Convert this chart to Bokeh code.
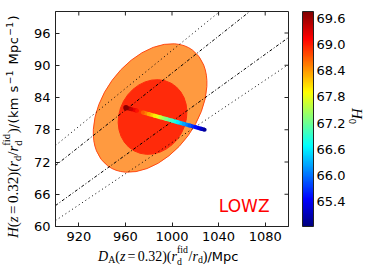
import math
from bokeh.plotting import figure
from bokeh.models import (ColorBar, LinearColorMapper, FixedTicker, PrintfTickFormatter,
                          Label, ColumnDataSource, Range1d, Div)
from bokeh.layouts import row, column
from bokeh.transform import linear_cmap
from bokeh.embed import file_html
from bokeh.resources import INLINE

# ---------------- data ----------------
da_limits = [900, 1100]
h_limits = [60, 100]
x_ticks = [920, 960, 1000, 1040, 1080]
y_ticks = [60, 66, 72, 78, 84, 90, 96]
cbar_ticks = [65.4, 66.0, 66.6, 67.2, 67.8, 68.4, 69.0, 69.6]
h0_low = 64.83
h0_high = 69.76

# confidence contours (ellipses): centre DA, centre H, major size (DA units), minor size (H units), tilt (deg)
outer_da, outer_h, outer_w, outer_hh, outer_ang = 981.2, 82.05, 123.2, 17.5, 53.9
inner_da, inner_h, inner_w, inner_hh, inner_ang = 983.3, 80.37, 66.2, 12.3, 61.3

# constant-D_V reference lines
dot1_da = [900, 1041]
dot1_h = [75.07, 100]
dd1_da = [900, 1066.7]
dd1_h = [71.35, 100]
dd2_da = [900, 1100]
dd2_h = [63.9, 95.16]
dot2_da = [900, 1100]
dot2_h = [61.1, 90.14]

# H0-coloured track
track_da = [960.5, 965, 970, 975, 980, 985, 990, 995, 1000, 1005, 1010, 1015, 1020, 1025, 1028]
track_h = [82.10, 81.83, 81.53, 81.22, 80.92, 80.62, 80.31, 80.01, 79.71, 79.40, 79.10, 78.80, 78.49, 78.19, 78.01]
track_h0 = [69.71, 69.40, 69.05, 68.70, 68.34, 67.99, 67.64, 67.29, 66.94, 66.59, 66.24, 65.89, 65.54, 65.19, 64.97]

sample_name = "LOWZ"
sample_da = 1040.2
sample_h = 63.9

# ---------------- palette (jet) ----------------
def _clip(v):
    return max(0.0, min(1.0, v))

jet = []
for i in range(256):
    t = i / 255.0
    r = _clip(1.5 - abs(4 * t - 3))
    g = _clip(1.5 - abs(4 * t - 2))
    b = _clip(1.5 - abs(4 * t - 1))
    jet.append("#%02x%02x%02x" % (int(r * 255), int(g * 255), int(b * 255)))

mapper = LinearColorMapper(palette=jet, low=h0_low, high=h0_high)

# ---------------- figure ----------------
p = figure(width=318, height=250, x_range=Range1d(*da_limits), y_range=Range1d(*h_limits),
           output_backend="svg", toolbar_location=None, margin=0,
           min_border_left=25, min_border_right=59, min_border_top=11, min_border_bottom=24)
p.grid.visible = False
p.outline_line_color = "#222222"
p.outline_line_width = 1
p.background_fill_color = "white"
p.border_fill_color = "white"

for ax in (p.xaxis[0], p.yaxis[0]):
    ax.axis_line_color = "#222222"
    ax.major_tick_in = 4
    ax.major_tick_out = 0
    ax.minor_tick_line_color = None
    ax.major_tick_line_color = "#222222"
    ax.major_label_text_font = "DejaVu Sans"
    ax.major_label_text_font_size = "13px"
    ax.major_label_text_color = "black"
    ax.major_label_standoff = 5
p.xaxis.ticker = FixedTicker(ticks=x_ticks)
p.yaxis.ticker = FixedTicker(ticks=y_ticks)

# contours
p.ellipse(x=[outer_da], y=[outer_h], width=[outer_w], height=[outer_hh], angle=[outer_ang],
          angle_units="deg", fill_color="#ff9a40", line_color="#ff4a14", line_width=1)
p.ellipse(x=[inner_da], y=[inner_h], width=[inner_w], height=[inner_hh], angle=[inner_ang],
          angle_units="deg", fill_color="#ff2a0a", line_color="#ff2a0a", line_width=1)

# reference lines
p.line(dot1_da, dot1_h, line_color="black", line_width=1, line_dash="1 3")
p.line(dot2_da, dot2_h, line_color="black", line_width=1, line_dash="1 3")
p.line(dd1_da, dd1_h, line_color="black", line_width=1, line_dash="3 2 1 2")
p.line(dd2_da, dd2_h, line_color="black", line_width=1, line_dash="3 2 1 2")

# H0 track
seg = ColumnDataSource(dict(
    x0=track_da[:-1], y0=track_h[:-1], x1=track_da[1:], y1=track_h[1:],
    h0=[(a + b) / 2 for a, b in zip(track_h0[:-1], track_h0[1:])]))
p.segment(x0="x0", y0="y0", x1="x1", y1="y1", source=seg, line_width=4,
          line_color=linear_cmap("h0", jet, h0_low, h0_high))
pts = ColumnDataSource(dict(x=track_da, y=track_h, h0=track_h0))
p.scatter(x="x", y="y", source=pts, size=4, line_color=None,
          fill_color=linear_cmap("h0", jet, h0_low, h0_high))
p.scatter(x=track_da[:1], y=track_h[:1], size=5.5, fill_color="#8a0000", line_color=None)

# inward ticks on the top and right edges (half of each dash is clipped by the frame)
p.scatter(x=x_ticks, y=[h_limits[1]] * len(x_ticks), marker="dash", angle=math.pi / 2,
          size=8, line_color="#222222")
p.scatter(x=[da_limits[1]] * len(y_ticks), y=y_ticks, marker="dash", size=8, line_color="#222222")

# sample name
p.add_layout(Label(x=sample_da, y=sample_h, text=sample_name, text_color="red",
                   text_font="DejaVu Sans", text_font_size="17px",
                   text_align="left", text_baseline="alphabetic"))

# invisible spacer colour bar (gap between frame and colour bar)
spacer = ColorBar(color_mapper=LinearColorMapper(palette=["#ffffff"], low=0, high=1),
                  ticker=FixedTicker(ticks=[]), width=14, height=215, padding=0, margin=0,
                  scale_alpha=0, bar_line_color=None, major_tick_line_color=None,
                  minor_tick_line_color=None, label_standoff=0,
                  background_fill_alpha=0, border_line_color=None)
p.add_layout(spacer, "right")

# colour bar
cb = ColorBar(color_mapper=mapper, ticker=FixedTicker(ticks=cbar_ticks),
              formatter=PrintfTickFormatter(format="%.1f"),
              width=11, height=215, padding=0, margin=0,
              major_tick_line_color=None, minor_tick_line_color=None,
              bar_line_color="#222222", bar_line_width=1,
              major_label_text_font="DejaVu Sans", major_label_text_font_size="13px",
              major_label_text_color="black", label_standoff=3,
              background_fill_alpha=0, border_line_color=None)
p.add_layout(cb, "right")

# ---------------- math-like labels as HTML text ----------------
SANS = "font-family:'DejaVu Sans',sans-serif;font-size:13px;"

def serif(fs):
    return ("font-family:'Liberation Serif',serif;font-size:%spx;line-height:%spx;color:black;"
            "white-space:nowrap;" % (fs, fs))

SMALL = "display:inline-block;position:relative;font-size:70%;line-height:0.7;"

def sub(t):
    return '<span style="%stop:0.25em">%s</span>' % (SMALL, t)

def sup(t):
    return '<span style="%stop:-0.55em;margin:0 0.12em">%s</span>' % (SMALL, t)

def subsup(s, u, up=0.6, down=0.55):
    # superscript stacked over subscript, without their boxes touching
    return ('<span style="display:inline-block;position:relative;width:1.18em;height:0.7em;'
            'font-size:70%%;vertical-align:baseline">'
            '<span style="position:absolute;left:0;bottom:%sem;line-height:1">%s</span>'
            '<span style="position:absolute;left:0;bottom:-%sem;line-height:1">%s</span>'
            '</span>' % (up, u, down, s))

EQ = '<span style="margin:0 0.16em">=</span>'

x_html = ('<i>D</i>' + sub("A") + '(<i>z</i>' + EQ + '0.32)(<i>r</i>' + subsup("d", "fid") +
          '/<i>r</i>' + sub("d") + ')<span style="' + SANS + '">/Mpc</span>')
y_html = ('<i>H</i>(<i>z</i>' + EQ + '0.32)(<i>r</i>' + sub("d") + '/<i>r</i>' +
          subsup("d", "fid", 0.5, 0.6) +
          ')<span style="' + SANS + 'letter-spacing:0.03em">/(km s' + sup("\u22121") + ' Mpc' +
          sup("\u22121") + ')</span>')
h0_html = '<i>H</i>' + sub("0")

def wrap(w, h, inner, left, top, rot, fs):
    tr = "" if rot == 0 else "transform:rotate(%ddeg);transform-origin:0 0;" % rot
    return ('<div style="position:relative;width:%dpx;height:%dpx;">'
            '<div style="position:absolute;left:%spx;top:%spx;%s%s">%s</div></div>'
            % (w, h, left, top, serif(fs), tr, inner))

ydiv = Div(text=wrap(30, 250, y_html, 6, 238, -90, 15), width=30, height=250, margin=0)
h0div = Div(text=wrap(26, 250, h0_html, 16, 108, 90, 15), width=26, height=250, margin=0)
xdiv = Div(text=wrap(374, 29, x_html, 98, 0, 0, 14), width=374, height=29, margin=0)

layout = column(row(ydiv, p, h0div, margin=0, spacing=0), xdiv, margin=0, spacing=0)

open("out.html", "w").write(file_html(layout, INLINE))
